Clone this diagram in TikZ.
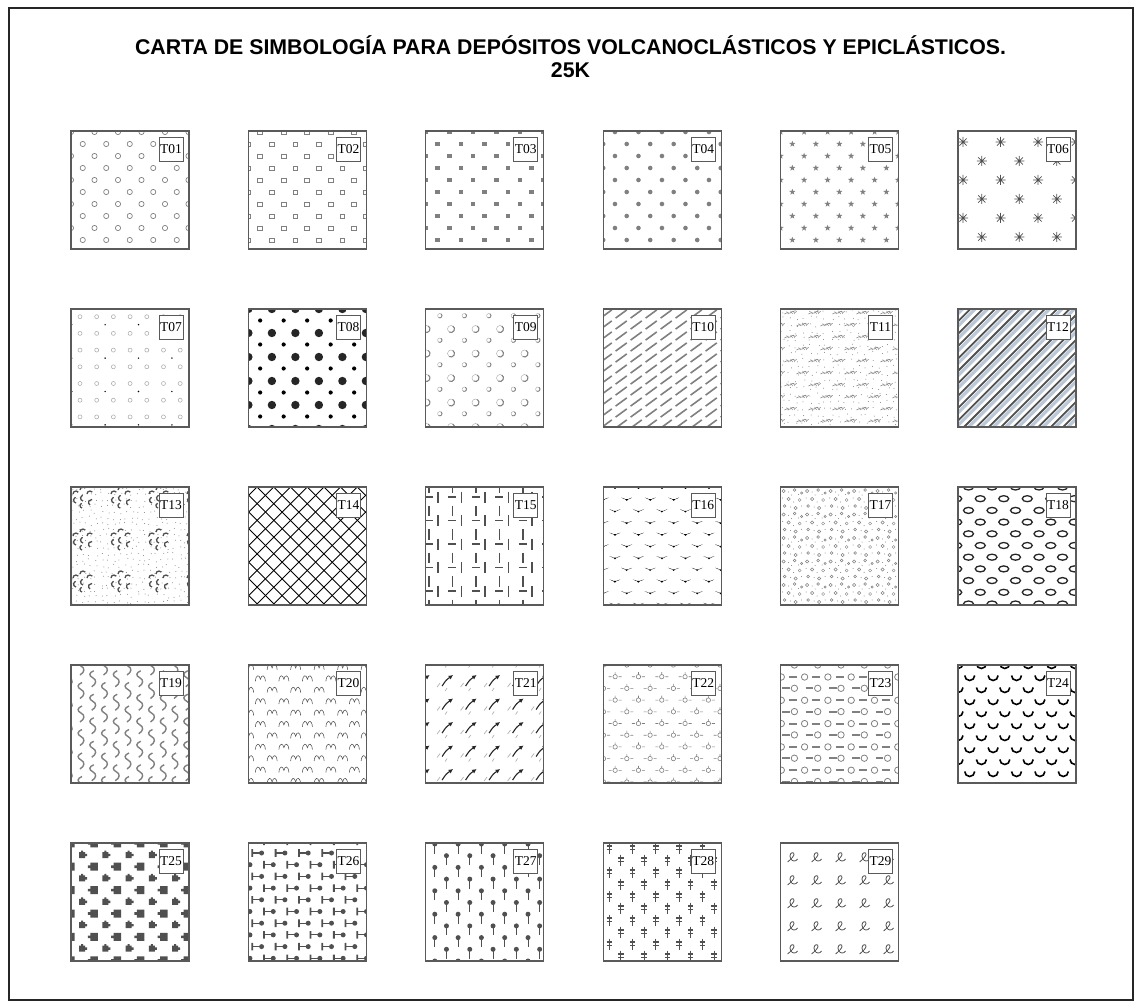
\documentclass[tikz,border=0pt]{standalone}
\usepackage{fontspec}
\setmainfont{Liberation Serif}
\newfontfamily\headfont{Liberation Sans}
\usetikzlibrary{arrows.meta,positioning}
\definecolor{symgray}{HTML}{808080}
\definecolor{symdark}{HTML}{505050}
\definecolor{symlight}{HTML}{B0B0B0}
\definecolor{stripeblue}{HTML}{BCC8D6}
\definecolor{framegray}{HTML}{5A5A5A}
\tikzset{
  outerframe/.style={draw=black!85,line width=1.3pt},
  swframe/.style={draw=framegray,line width=1.1pt},
  tag/.style={draw=framegray,fill=white,line width=0.8pt,minimum width=24pt,minimum height=24pt,inner sep=0pt,font=\fontsize{13.5}{14}\selectfont},
  titletext/.style={font=\headfont\bfseries\fontsize{21.3}{23}\selectfont,anchor=base,inner sep=0pt},
  sym/.style={draw=symgray,line width=0.7pt},
  symthick/.style={draw=symdark,line width=1.4pt},
}
% repeat a motif on a grid inside one swatch
\newcommand{\lattice}[5]{%
  \pgfmathtruncatemacro\latnc{118/(#1)+1}%
  \pgfmathtruncatemacro\latnr{118/(#2)+1}%
  \foreach \lr in {-1,...,\latnr}{%
    \foreach \lc in {-1,...,\latnc}{%
      \begin{scope}[shift={({(#3)+\lc*(#1)},{(#4)+\lr*(#2)})}]#5\end{scope}}}}
\newcommand{\stagger}[5]{%
  \lattice{#1}{2*(#2)}{#3}{#4}{#5}%
  \lattice{#1}{2*(#2)}{(#3)+(#1)/2}{(#4)+(#2)}{#5}}
\newcommand{\swatch}[4]{%
  \begin{scope}[shift={({71+177.4*(#1)},{131+178*(#2)})}]
    \begin{scope}
      \clip (0,0) rectangle (118,118);
      #4
    \end{scope}
    \draw[swframe] (0,0) rectangle (118,118);
    \node[tag] (#3) at (100,18) {#3};
  \end{scope}}
\newcommand{\starsym}{\fill[symgray] (-90:3.3) -- (-54:1.3) -- (-18:3.3) -- (18:1.3) -- (54:3.3) -- (90:1.3) -- (126:3.3) -- (162:1.3) -- (198:3.3) -- (234:1.3) -- cycle;}
\newcommand{\clustersym}{\draw[symdark,line width=1.3pt] (-10,-3) arc (180:320:3) (-3,-7) arc (180:320:3) (4,-3) arc (180:320:3) (-7,6) arc (100:250:3) (0,4) arc (100:250:3) (7,8) arc (120:280:3) (-1,11) arc (100:250:2.5);}

\begin{document}
\begin{tikzpicture}[x=1pt,y=-1pt]
  \useasboundingbox (0,0) rectangle (1141,1008);
  \pgfmathsetseed{7}
  \draw[outerframe] (9,8) rectangle (1133,1000);
  \node[titletext] (title) at (570.5,54.5) {CARTA DE SIMBOLOGÍA PARA DEPÓSITOS VOLCANOCLÁSTICOS Y EPICLÁSTICOS.};
  \node[titletext] (scaletag) at (570.5,77.5) {25K};

  \swatch{0}{0}{T01}{\stagger{23.5}{12}{0}{1}{\draw[sym] (0,0) circle (2.6);}}
  \swatch{1}{0}{T02}{\stagger{23.5}{12}{0}{13}{\draw[sym] (-2.4,-2.1) rectangle (2.4,2.1);}}
  \swatch{2}{0}{T03}{\stagger{23.5}{12}{0}{1}{\fill[symgray] (-2.3,-2.3) rectangle (2.3,2.3);}}
  \swatch{3}{0}{T04}{\stagger{23.5}{12}{0}{13}{\fill[symgray] (0,0) circle (2.3);}}
  \swatch{4}{0}{T05}{\stagger{23.5}{12}{0}{1}{\starsym}}
  \swatch{5}{0}{T06}{\stagger{37.5}{19}{5}{11}{\draw[symdark,line width=0.7pt] (-5,0) -- (5,0) (0,-5) -- (0,5) (-3.6,-3.6) -- (3.6,3.6) (-3.6,3.6) -- (3.6,-3.6);}}

  \swatch{0}{1}{T07}{\lattice{16.7}{16.7}{9}{7.7}{\draw[symlight,line width=0.6pt] (0,0) circle (2);}
    \lattice{33.4}{33.4}{0.7}{15.7}{\fill[black] (0,0) circle (0.8);}}
  \swatch{1}{1}{T08}{\lattice{23.5}{24}{0}{0}{\fill[black!85] (0,0) circle (4.2);}
    \lattice{23.5}{24}{11.75}{11.5}{\fill[black] (0,0) circle (2.1);}}
  \swatch{2}{1}{T09}{\lattice{24.5}{24.5}{14}{6.7}{\draw[symlight,line width=0.5pt] (0,0) circle (2.2); \draw[symgray,line width=0.8pt] (-60:2.2) arc (-60:120:2.2);}
    \lattice{24.5}{24.5}{0.7}{20}{\draw[symlight,line width=0.5pt] (0,0) circle (3.5); \draw[symgray,line width=1pt] (-60:3.5) arc (-60:120:3.5);}}
  \swatch{3}{1}{T10}{\lattice{15}{11}{3}{5}{\draw[symgray,line width=1.6pt] (-5.6,4.1) -- (5.6,-4.1);}}
  \swatch{4}{1}{T11}{\lattice{7}{7}{2}{2}{\fill[symgray] (rand*2,rand*2) circle (0.5);}
    \stagger{24}{12}{10}{4}{\draw[symgray,line width=0.6pt] (-6,1) .. controls (-3,-2) and (-1,2) .. (1,-1) .. controls (3,-3) and (4,1) .. (6,-1.5); \draw[symgray,line width=0.4pt] (-4,-1.5) -- (-2,1) (0,-2) -- (2,1) (3,-2) -- (4,1);}}
  \swatch{5}{1}{T12}{\foreach \k in {0,...,20}{\draw[stripeblue,line width=3.2pt] ({\k*12.4-118+4.7},118) -- ++(118,-118); \draw[symdark,line width=1.8pt] ({\k*12.4-118},118) -- ++(118,-118);}}

  \swatch{0}{2}{T13}{\lattice{6}{6}{1}{1}{\fill[symgray] (rand*2,rand*2) circle (0.5);}
    \lattice{38}{42}{12}{10}{\clustersym}}
  \swatch{1}{2}{T14}{\foreach \k in {-8,...,15}{\draw[black,line width=0.9pt] ({8.7+16.7*\k},0) -- ++(118,118) ({8.7+16.7*\k},0) -- ++(-118,118);}}
  \swatch{2}{2}{T15}{\lattice{23.5}{23.5}{0}{0}{\draw[symdark,line width=1.6pt] (-1,10) -- (7,10) (12.3,4.5) -- (12.3,15.5) (3,18.5) -- (3,29);}}
  \swatch{3}{2}{T16}{\stagger{23.5}{11.7}{11.75}{0.3}{\fill[black] (-5.5,-1.4) .. controls (-2,-0.5) .. (0,1.8) .. controls (2,-0.5) .. (5.5,-1.4) .. controls (2,0.3) .. (0,0.1) .. controls (-2,0.3) .. (-5.5,-1.4) -- cycle;}}
  \swatch{4}{2}{T17}{\lattice{23.5}{23.5}{0}{0}{\draw[symgray,line width=0.5pt] (3,4) circle (1.6) (14,3) circle (1.4) (8,12) circle (1.7) (19,13) circle (1.5) (4,19) circle (1.4) (15,21) circle (1.6) (21,6) circle (1.2);
      \fill[symgray] (8,5) circle (0.6) (18,7.5) circle (0.6) (2,11) circle (0.6) (13,15) circle (0.6) (10,20) circle (0.6) (21,19) circle (0.6) (11,8) circle (0.5);}}
  \swatch{5}{2}{T18}{\stagger{23.5}{11.7}{10.5}{0}{\draw[black!85,line width=1.3pt] (0,0) ellipse (5 and 3);}}

  \swatch{0}{3}{T19}{\stagger{23.5}{11.75}{10}{2}{\draw[symgray,line width=1.4pt] (1,-8) .. controls (-4,-6) and (-4,-3) .. (0,-1) .. controls (4,1) and (4,5) .. (-1,8);}}
  \swatch{1}{3}{T20}{\stagger{23.5}{11.4}{12}{13.3}{\draw[symdark,line width=0.55pt] (-5,3) .. controls (-4.5,-4) and (-1,-4) .. (0,1) .. controls (1,-4) and (4.5,-4) .. (5,3);}}
  \swatch{2}{3}{T21}{\lattice{23.5}{23.5}{22.3}{15}{\draw[symlight,line width=0.7pt] (-11,7) -- (-8,3) (-3,11) -- (-1,8);
      \draw[black!85,line width=1.1pt,-{Latex[length=4.5pt,width=4.5pt]}] (-6,6) .. controls (-2,0) .. (5,-5);}}
  \swatch{3}{3}{T22}{\stagger{23.3}{11.7}{0.3}{0}{\draw[symgray,line width=0.6pt] (0,0) circle (2.2) (-6.5,0) -- (-3.5,0) (3.5,0) -- (6.5,0) (0,-2.2) -- (0,-4.5);}}
  \swatch{4}{3}{T23}{\lattice{23.3}{23.3}{0.7}{12}{\draw[symgray,line width=0.8pt] (0,0) circle (3.2); \draw[symgray,line width=2pt] (-15.6,0) -- (-7.7,0);}
    \lattice{23.3}{23.3}{13.8}{0}{\draw[symgray,line width=0.8pt] (0,0) circle (3.2); \draw[symgray,line width=2pt] (-12,0) -- (-4.4,0);}}
  \swatch{5}{3}{T24}{\stagger{23.4}{12}{0}{0}{\draw[black,line width=1.6pt] (-5,-1.5) arc (180:0:5);}}

  \swatch{0}{4}{T25}{\lattice{23.3}{23.4}{11}{12}{\fill[symdark] (-3,-3) rectangle (3,3) (3,-1.2) rectangle (5,1.2) (-1,-4.5) rectangle (1,-3);}
    \lattice{23.3}{23.4}{-0.5}{23.7}{\fill[symdark] (-3.5,-4) rectangle (4,4) (-6,-1.3) rectangle (-3.5,1.3);}}
  \swatch{1}{4}{T26}{\stagger{23.3}{11.7}{10}{10}{\fill[symdark] (-7,-3.8) rectangle (-5.2,3.8) (3.2,0) circle (2.5); \draw[symdark,line width=1.1pt] (-5.3,0) -- (3,0);}}
  \swatch{2}{4}{T27}{\stagger{23.3}{11.7}{9}{4}{\fill[symdark] (0,-3) circle (2.5); \draw[symdark,line width=1pt] (0,-3) -- (0,6.5);}}
  \swatch{3}{4}{T28}{\stagger{23.3}{12}{6}{5}{\draw[symdark,line width=1.1pt] (0,-5.5) -- (0,5.5) (-2.7,-2) -- (2.7,-2) (-2.7,1.5) -- (2.7,1.5);}}
  \swatch{4}{4}{T29}{\lattice{24}{23}{12}{15}{\draw[symdark,line width=0.8pt] (-5,4) .. controls (-1.5,1) and (3,-3) .. (1,-5) .. controls (-1,-6.5) and (-4,-3) .. (-2,0.5) .. controls (-0.5,3.5) and (3,4) .. (5,1);}}
\end{tikzpicture}
\end{document}
